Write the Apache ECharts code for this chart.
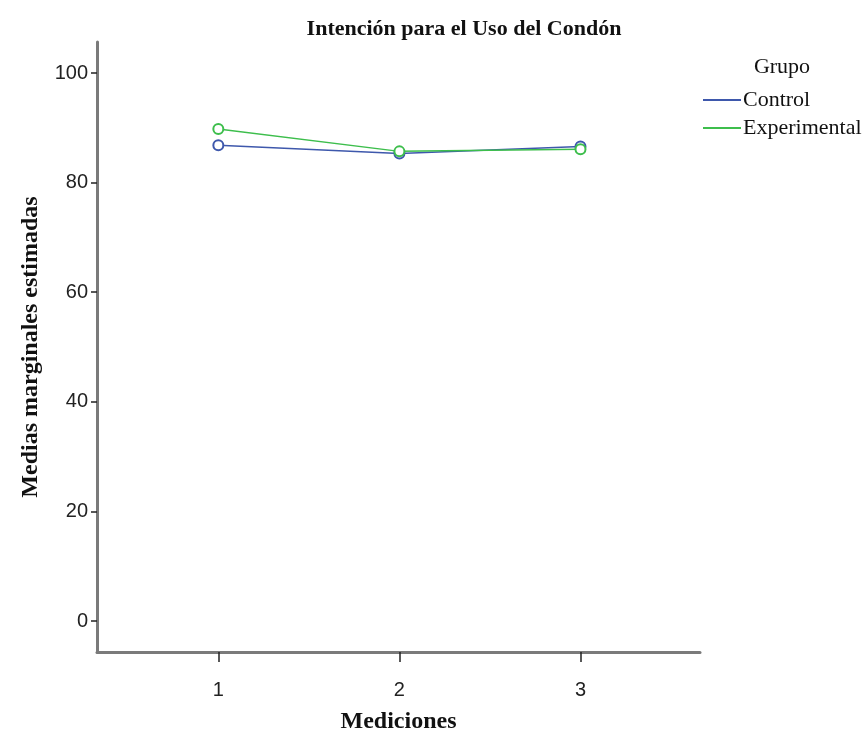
<!DOCTYPE html>
<html>
<head>
<meta charset="utf-8">
<script src="https://cdn.jsdelivr.net/npm/echarts@6/dist/echarts.min.js"></script>
<style>html,body{margin:0;padding:0;background:#fff;}#c{width:867px;height:732px;}</style>
</head>
<body>
<div id="c"></div>
<script>
const mediciones = [1, 2, 3];
const control = [86.8, 85.3, 86.6];
const experimental = [89.8, 85.7, 86.1];
const yTicks = [0, 20, 40, 60, 80, 100];

const chart = echarts.init(document.getElementById('c'));
const serif = 'Liberation Serif';
chart.setOption({
  animation: false,
  backgroundColor: '#ffffff',
  title: [
    { text: 'Intención para el Uso del Condón', left: 459, textAlign: 'center', top: 13,
      textStyle: { fontFamily: serif, fontWeight: 'bold', fontSize: 22, color: '#111' } },
    { text: 'Grupo', left: 777, textAlign: 'center', top: 51,
      textStyle: { fontFamily: serif, fontWeight: 'normal', fontSize: 22, color: '#111' } }
  ],
  legend: {
    orient: 'vertical', left: 703, top: 89, padding: 0, itemWidth: 38, itemHeight: 2, itemGap: 6,
    icon: 'rect',
    textStyle: { fontFamily: serif, fontSize: 22, color: '#111', padding: [0, 0, 0, -3] },
    data: ['Control', 'Experimental']
  },
  grid: { left: 97, right: 167, top: 42, bottom: 80, outerBoundsMode: 'none', containLabel: false },
  xAxis: {
    type: 'value', min: 0.33, max: 3.66,
    name: 'Mediciones', nameLocation: 'middle', nameGap: 58,
    nameTextStyle: { fontFamily: serif, fontWeight: 'bold', fontSize: 24, color: '#111' },
    axisLine: { onZero: false, lineStyle: { color: '#7a7a7a', width: 3 } },
    axisTick: { show: true, length: 10, lineStyle: { color: '#222', width: 1.5 }, customValues: mediciones },
    axisLabel: { fontFamily: 'Liberation Sans', fontSize: 20, color: '#222', margin: 28, customValues: mediciones },
    splitLine: { show: false }
  },
  yAxis: {
    type: 'value', min: -5.66, max: 105.66,
    name: 'Medias marginales estimadas', nameLocation: 'middle', nameGap: 54, nameRotate: 90,
    nameTextStyle: { fontFamily: serif, fontWeight: 'bold', fontSize: 24, color: '#111' },
    axisLine: { show: true, onZero: false, lineStyle: { color: '#7a7a7a', width: 3 } },
    axisTick: { show: true, length: 6, lineStyle: { color: '#222', width: 1.5 }, customValues: yTicks },
    axisLabel: { fontFamily: 'Liberation Sans', fontSize: 20, color: '#222', margin: 9, customValues: yTicks },
    splitLine: { show: false }
  },
  series: [
    { name: 'Control', type: 'line', data: mediciones.map((m, i) => [m, control[i]]),
      color: '#3E58AC', symbol: 'emptyCircle', symbolSize: 10,
      lineStyle: { width: 1.5 }, itemStyle: { borderWidth: 1.5 } },
    { name: 'Experimental', type: 'line', data: mediciones.map((m, i) => [m, experimental[i]]),
      color: '#3DBE4C', symbol: 'emptyCircle', symbolSize: 10,
      lineStyle: { width: 1.5 }, itemStyle: { borderWidth: 1.5 } }
  ]
});
</script>
</body>
</html>
